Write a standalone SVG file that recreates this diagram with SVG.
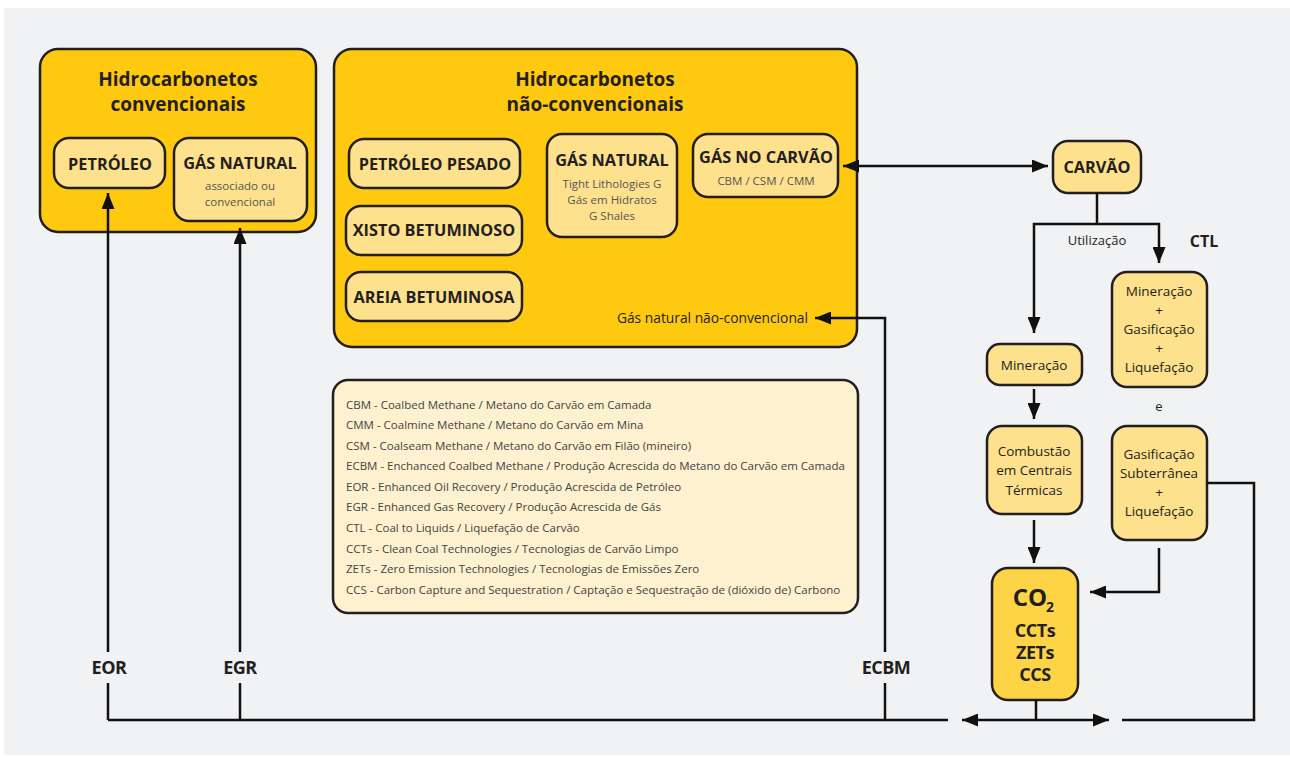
<svg xmlns="http://www.w3.org/2000/svg" width="1290" height="758" viewBox="0 0 1290 758">
  <style>
    text { font-family: "Open Sans", "Noto Sans", "Liberation Sans", sans-serif; fill: #231f20; }
    .group { fill: #fec90e; stroke: #231f20; stroke-width: 2.5; }
    .node { fill: #fee18c; stroke: #231f20; stroke-width: 2.5; }
    .co2 { fill: #fdd446; stroke: #231f20; stroke-width: 2.5; }
    .legend { fill: #fdf1cf; stroke: #231f20; stroke-width: 2.5; }
    .title { font-size: 19px; font-weight: 700; text-anchor: middle; }
    .head { font-size: 16.3px; font-weight: 700; text-anchor: middle; }
    .sub { font-size: 11.5px; text-anchor: middle; fill: #555; }
    .plain { font-size: 13.5px; text-anchor: middle; }
    .leg { font-size: 11.5px; fill: #444; }
    .lbl { font-size: 18px; font-weight: 700; text-anchor: middle; letter-spacing: -0.5px; }
    .wire { fill: none; stroke: #111; stroke-width: 2.5; }
  </style>
  <defs>
    <marker id="arrow" markerWidth="16" markerHeight="13" refX="16" refY="6.5" orient="auto-start-reverse" markerUnits="userSpaceOnUse">
      <path d="M0,0 L16,6.5 L0,13 z" fill="#111"/>
    </marker>
  </defs>

  <rect x="0" y="0" width="1290" height="758" fill="#ffffff"/>
  <rect x="4" y="8" width="1286" height="747" fill="#f1f2f4"/>

  <!-- conventional hydrocarbons -->
  <g id="convencionais">
    <rect class="group" x="40" y="49" width="276" height="183" rx="18"/>
    <text class="title" x="178" y="86">Hidrocarbonetos</text>
    <text class="title" x="178" y="111">convencionais</text>
  </g>
  <g id="petroleo">
    <rect class="node" x="54" y="138" width="111" height="50" rx="15"/>
    <text class="head" x="110" y="170">PETRÓLEO</text>
  </g>
  <g id="gas-natural-conv">
    <rect class="node" x="174" y="138" width="133" height="83" rx="15"/>
    <text class="head" x="240" y="169">GÁS NATURAL</text>
    <text class="sub" x="240" y="190">associado ou</text>
    <text class="sub" x="240" y="206">convencional</text>
  </g>

  <!-- unconventional hydrocarbons -->
  <g id="nao-convencionais">
    <rect class="group" x="334" y="49" width="523" height="298" rx="18"/>
    <text class="title" x="595" y="86">Hidrocarbonetos</text>
    <text class="title" x="595" y="111">não-convencionais</text>
    <text x="808" y="323" style="font-size:13.8px;text-anchor:end">Gás natural não-convencional</text>
  </g>
  <g id="petroleo-pesado">
    <rect class="node" x="349" y="139" width="171" height="49" rx="15"/>
    <text class="head" x="435" y="170">PETRÓLEO PESADO</text>
  </g>
  <g id="xisto">
    <rect class="node" x="346" y="206" width="176" height="49" rx="15"/>
    <text class="head" x="434" y="236">XISTO BETUMINOSO</text>
  </g>
  <g id="areia">
    <rect class="node" x="346" y="272" width="176" height="49" rx="15"/>
    <text class="head" x="434" y="303">AREIA BETUMINOSA</text>
  </g>
  <g id="gas-natural-nc">
    <rect class="node" x="547" y="134" width="130" height="103" rx="15"/>
    <text class="head" x="612" y="166">GÁS NATURAL</text>
    <text class="sub" x="612" y="188">Tight Lithologies G</text>
    <text class="sub" x="612" y="204">Gás em Hidratos</text>
    <text class="sub" x="612" y="220">G Shales</text>
  </g>
  <g id="gas-no-carvao">
    <rect class="node" x="693" y="134" width="145" height="63" rx="15"/>
    <text class="head" x="766" y="163">GÁS NO CARVÃO</text>
    <text class="sub" x="766" y="185">CBM / CSM / CMM</text>
  </g>

  <!-- glossary -->
  <g id="legenda">
    <rect class="legend" x="333" y="380" width="525" height="233" rx="15"/>
    <text class="leg" x="346" y="409">CBM - Coalbed Methane / Metano do Carvão em Camada</text>
    <text class="leg" x="346" y="429">CMM - Coalmine Methane / Metano do Carvão em Mina</text>
    <text class="leg" x="346" y="450">CSM - Coalseam Methane / Metano do Carvão em Filão (mineiro)</text>
    <text class="leg" x="346" y="470">ECBM - Enchanced Coalbed Methane / Produção Acrescida do Metano do Carvão em Camada</text>
    <text class="leg" x="346" y="491">EOR - Enhanced Oil Recovery / Produção Acrescida de Petróleo</text>
    <text class="leg" x="346" y="511">EGR - Enhanced Gas Recovery / Produção Acrescida de Gás</text>
    <text class="leg" x="346" y="532">CTL - Coal to Liquids / Liquefação de Carvão</text>
    <text class="leg" x="346" y="553">CCTs - Clean Coal Technologies / Tecnologias de Carvão Limpo</text>
    <text class="leg" x="346" y="573">ZETs - Zero Emission Technologies / Tecnologias de Emissões Zero</text>
    <text class="leg" x="346" y="594">CCS - Carbon Capture and Sequestration / Captação e Sequestração de (dióxido de) Carbono</text>
  </g>

  <!-- coal branch -->
  <g id="carvao">
    <rect class="node" x="1053" y="141" width="88" height="52" rx="15"/>
    <text class="head" x="1097" y="173">CARVÃO</text>
  </g>
  <g id="ctl">
    <rect class="node" x="1112" y="272" width="95" height="115" rx="15"/>
    <text class="plain" x="1159" y="296">Mineração</text>
    <text class="plain" x="1159" y="315">+</text>
    <text class="plain" x="1159" y="334">Gasificação</text>
    <text class="plain" x="1159" y="353">+</text>
    <text class="plain" x="1159" y="372">Liquefação</text>
  </g>
  <g id="subterranea">
    <rect class="node" x="1112" y="426" width="95" height="114" rx="15"/>
    <text class="plain" x="1159" y="459">Gasificação</text>
    <text class="plain" x="1159" y="478">Subterrânea</text>
    <text class="plain" x="1159" y="497">+</text>
    <text class="plain" x="1159" y="516">Liquefação</text>
  </g>
  <g id="mineracao">
    <rect class="node" x="987" y="344" width="95" height="41" rx="13"/>
    <text class="plain" x="1034" y="370">Mineração</text>
  </g>
  <g id="combustao">
    <rect class="node" x="987" y="426" width="95" height="88" rx="15"/>
    <text class="plain" x="1034" y="456">Combustão</text>
    <text class="plain" x="1034" y="475">em Centrais</text>
    <text class="plain" x="1034" y="495">Térmicas</text>
  </g>
  <g id="co2">
    <rect class="co2" x="992" y="568" width="86" height="132" rx="16"/>
    <text x="1030" y="606" style="font-size:24px;font-weight:700;text-anchor:middle">CO</text>
    <text x="1050" y="612" style="font-size:14px;font-weight:700;text-anchor:middle">2</text>
    <text class="lbl" x="1035" y="637">CCTs</text>
    <text class="lbl" x="1035" y="659">ZETs</text>
    <text class="lbl" x="1035" y="681">CCS</text>
  </g>

  <!-- free labels -->
  <g id="rotulos">
    <text x="1097" y="245" style="font-size:13px;text-anchor:middle">Utilização</text>
    <text x="1204" y="247" style="font-size:16px;font-weight:700;text-anchor:middle">CTL</text>
    <text x="1159" y="411" style="font-size:13px;text-anchor:middle">e</text>
    <text class="lbl" x="109" y="674">EOR</text>
    <text class="lbl" x="240" y="674">EGR</text>
    <text class="lbl" x="886" y="674">ECBM</text>
  </g>

  <!-- connectors -->
  <g id="conectores">
    <!-- gas in coal <-> coal -->
    <line class="wire" x1="843" y1="166" x2="1048" y2="166" marker-start="url(#arrow)" marker-end="url(#arrow)"/>
    <!-- coal utilisation split -->
    <polyline class="wire" points="1097,193 1097,224"/>
    <polyline class="wire" points="1034,333 1034,224 1159,224 1159,263" marker-start="url(#arrow)" marker-end="url(#arrow)"/>
    <line class="wire" x1="1034" y1="389" x2="1034" y2="419" marker-end="url(#arrow)"/>
    <line class="wire" x1="1034" y1="520" x2="1034" y2="563" marker-end="url(#arrow)"/>
    <polyline class="wire" points="1159,548 1159,592 1090,592" marker-end="url(#arrow)"/>
    <polyline class="wire" points="1207,483 1254,483 1254,720 1122,720"/>
    <!-- CO2 out to the return line -->
    <line class="wire" x1="1036" y1="700" x2="1036" y2="720"/>
    <line class="wire" x1="962" y1="720" x2="1109" y2="720" marker-start="url(#arrow)" marker-end="url(#arrow)"/>
    <!-- return line to the reservoirs -->
    <line class="wire" x1="108" y1="720" x2="948" y2="720"/>
    <line class="wire" x1="108" y1="720" x2="108" y2="683"/>
    <line class="wire" x1="108" y1="652" x2="108" y2="193" marker-end="url(#arrow)"/>
    <line class="wire" x1="240" y1="720" x2="240" y2="683"/>
    <line class="wire" x1="240" y1="652" x2="240" y2="228" marker-end="url(#arrow)"/>
    <line class="wire" x1="885" y1="720" x2="885" y2="683"/>
    <polyline class="wire" points="885,652 885,318 815,318" marker-end="url(#arrow)"/>
  </g>
</svg>
